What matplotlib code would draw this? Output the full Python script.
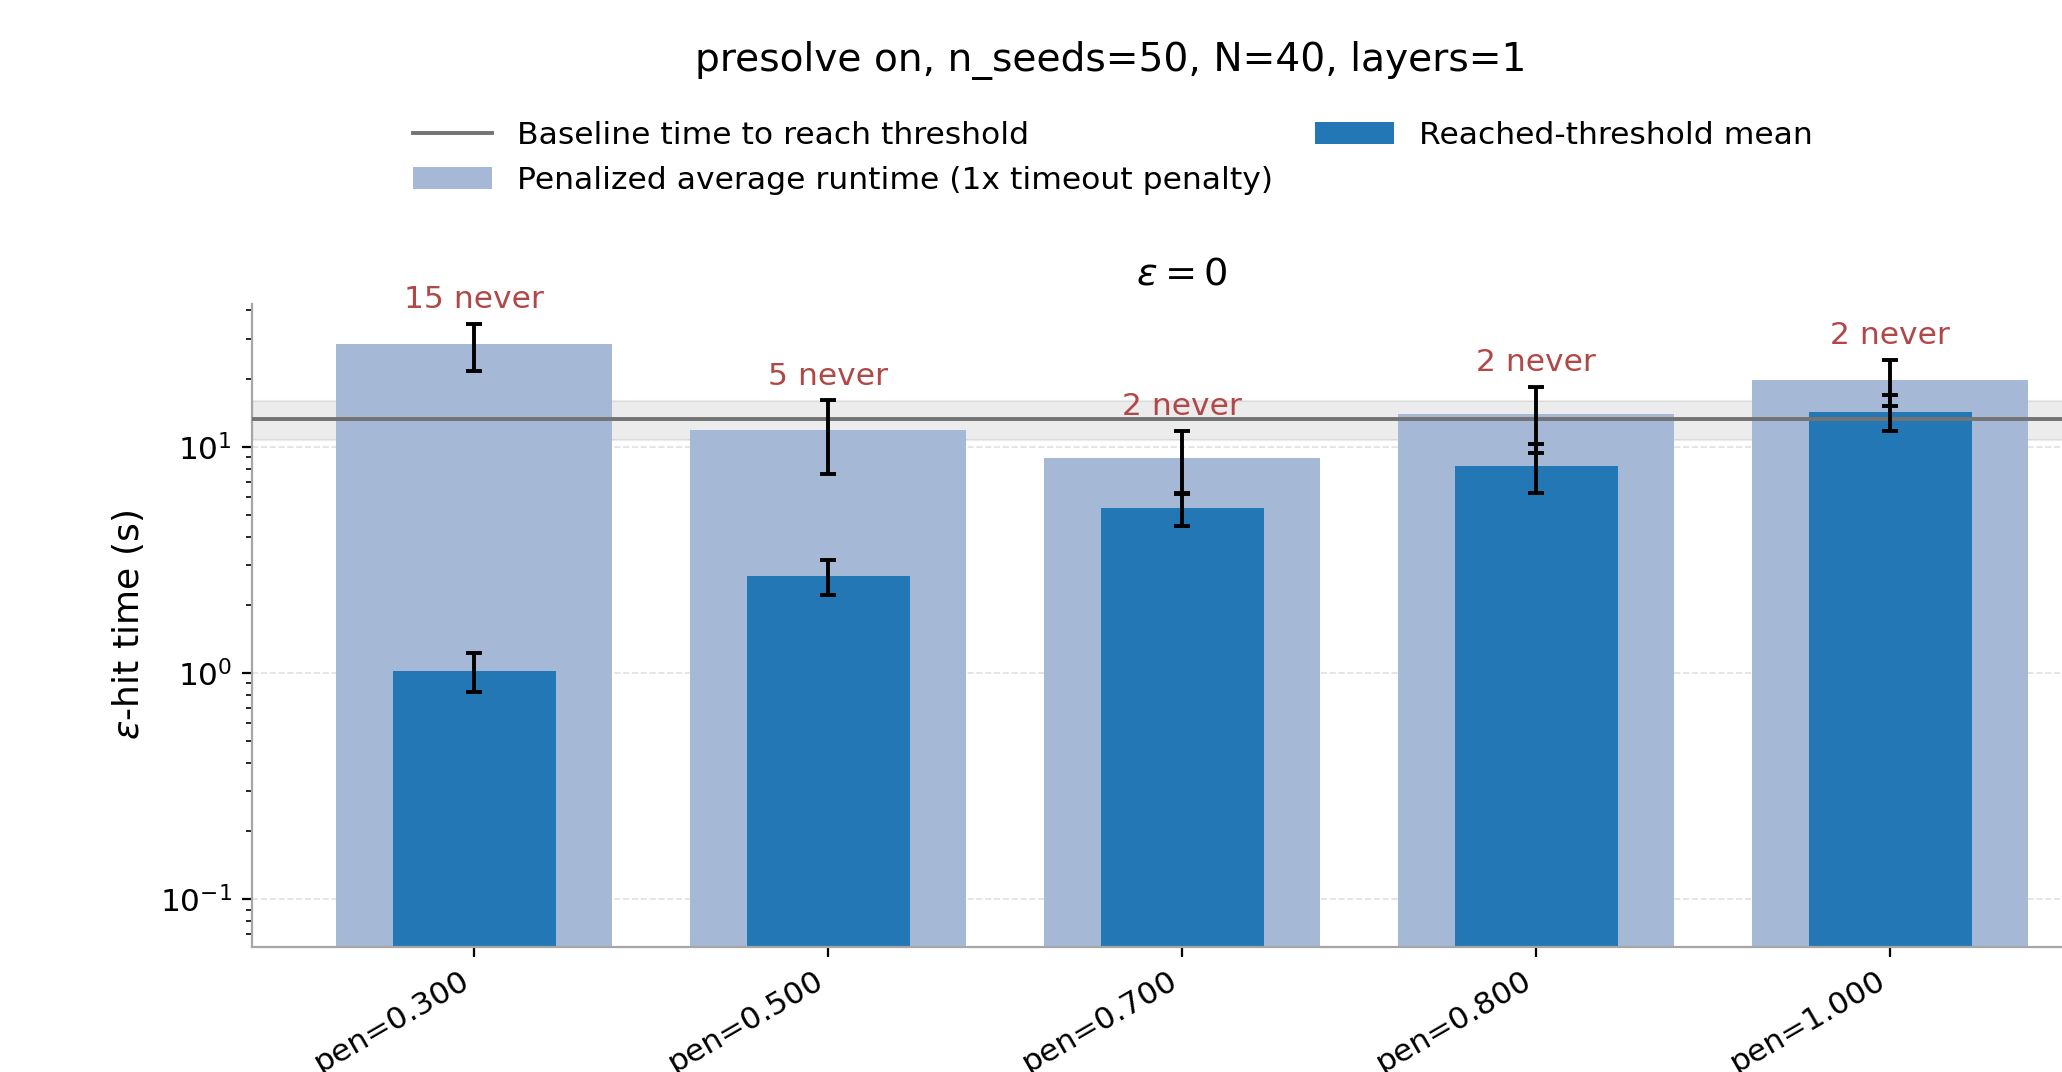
import matplotlib
matplotlib.use("Agg")
import matplotlib.pyplot as plt
import numpy as np

# ---- data ----
categories = ["pen=0.300", "pen=0.500", "pen=0.700", "pen=0.800", "pen=1.000"]
penalized_mean = [28.3, 11.8, 8.95, 13.9, 19.7]
penalized_err = [6.6, 4.2, 2.8, 4.5, 4.5]
reached_mean = [1.02, 2.69, 5.34, 8.23, 14.3]
reached_err = [0.20, 0.48, 0.90, 2.0, 2.6]
never_counts = [15, 5, 2, 2, 2]
baseline_time = 13.3
baseline_err = 2.65

suptitle = "presolve on, n_seeds=50, N=40, layers=1"
panel_title = r"$\varepsilon = 0$"
ylabel = r"$\varepsilon$-hit time (s)"

W, H, DPI = 2062, 1072, 200
fig = plt.figure(figsize=(W / DPI, H / DPI), dpi=DPI)

left, right, bottom, top = 251.7, 2113, 946.7, 304
ax = fig.add_axes([left / W, 1 - bottom / H, (right - left) / W, (bottom - top) / H])

x = np.arange(len(categories))
light = "#a5b9d6"
dark = "#2277b4"

ax.axhspan(baseline_time - baseline_err, baseline_time + baseline_err,
           color="0.5", alpha=0.15, lw=0.8, zorder=0.5)
bars_pen = ax.bar(x, penalized_mean, width=0.78, color=light, zorder=1,
                  label="Penalized average runtime (1x timeout penalty)")
bars_reach = ax.bar(x, reached_mean, width=0.46, color=dark, zorder=2,
                    label="Reached-threshold mean")
ax.errorbar(x, penalized_mean, yerr=penalized_err, fmt="none", ecolor="black",
            elinewidth=1.4, capsize=3.0, capthick=1.4, zorder=4)
ax.errorbar(x, reached_mean, yerr=reached_err, fmt="none", ecolor="black",
            elinewidth=1.4, capsize=3.0, capthick=1.4, zorder=4)
line = ax.axhline(baseline_time, color="0.45", lw=1.4, zorder=3,
                  label="Baseline time to reach threshold")

for xi, m, e, n in zip(x, penalized_mean, penalized_err, never_counts):
    ax.annotate(f"{n} never", xy=(xi, m + e), xytext=(0, 3.5),
                textcoords="offset points", ha="center", va="bottom",
                fontsize=11.3, color="#b04848", zorder=5)

ax.set_yscale("log")
ax.set_xlim(-0.629, len(categories) - 1 + 0.629)
ax.set_ylim(0.0617, 42.7)
ax.set_xticks(x)
ax.set_xticklabels(categories, rotation=30, ha="right", rotation_mode="default",
                   fontsize=11.2)
ax.tick_params(axis="y", labelsize=11.2)
ax.set_ylabel(ylabel, fontsize=13, labelpad=5)
ax.set_title(panel_title, fontsize=13.8, pad=7)
ax.yaxis.grid(True, which="major", linestyle="--", color="0.88", lw=0.6, zorder=0)
ax.set_axisbelow(True)
for s in ["top", "right"]:
    ax.spines[s].set_visible(False)
for s in ["left", "bottom"]:
    ax.spines[s].set_color("0.65")

fig.suptitle(suptitle, x=1111 / W, y=1 - 60.5 / H, fontsize=14.1, va="center")

fig.legend(handles=[line, bars_pen, bars_reach], loc="upper center",
           bbox_to_anchor=(1113 / W, 1 - 93 / H), ncol=2, frameon=False,
           fontsize=11.3, handlelength=2.5, columnspacing=1.35)

fig.savefig("out.png", dpi=DPI)
